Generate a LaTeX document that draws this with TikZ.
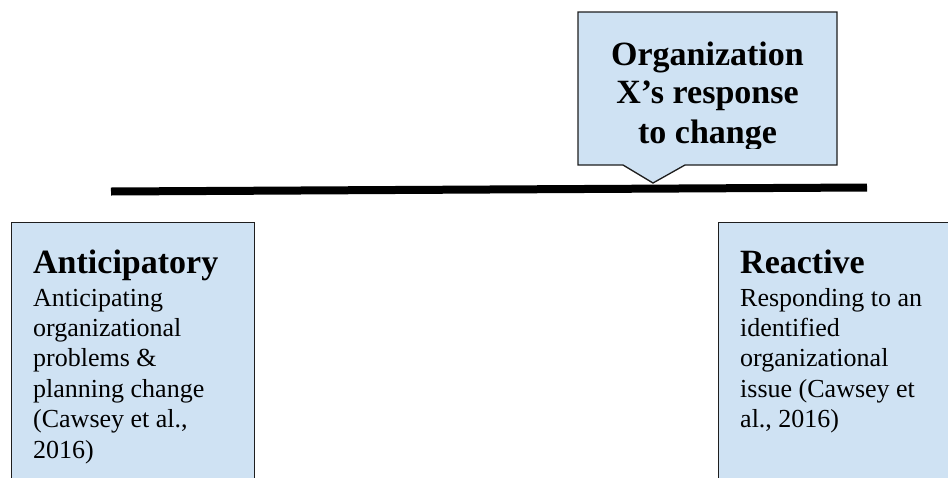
\documentclass[tikz,border=0pt]{standalone}
\usepackage{fontspec}
\setmainfont{Liberation Serif}
\definecolor{boxfill}{RGB}{207,226,243}
\definecolor{boxline}{RGB}{30,30,30}
\begin{document}
\begin{tikzpicture}[x=1pt,y=1pt,
  panel/.style={draw=boxline,line width=1.3pt,fill=boxfill,rectangle,inner sep=0pt,anchor=north west},
  headtxt/.style={anchor=base west,inner sep=0pt,font=\fontsize{34}{34}\selectfont\bfseries},
  bodytxt/.style={anchor=base west,inner sep=0pt,font=\fontsize{26}{30.4}\selectfont},
  calltxt/.style={anchor=base,inner sep=0pt,font=\fontsize{34}{34}\selectfont\bfseries}]
\useasboundingbox (0,0) rectangle (948,-477);
\clip (0,0) rectangle (948,-477);
% callout
\draw[draw=boxline,line width=1.3pt,fill=boxfill]
  (578,-12) -- (837,-12) -- (837,-165) -- (685,-165) -- (653,-183) -- (623,-165) -- (578,-165) -- cycle;
\begin{scope}
\clip (578,-12) rectangle (837,-148);
\node[calltxt] (c1) at (707.5,-65) {Organization};
\node[calltxt] (c2) at (707.5,-103.5) {X’s response};
\node[calltxt] (c3) at (707.5,-143) {to change};
\end{scope}
% horizontal bar
\coordinate (lineL) at (111,-191.5);
\coordinate (lineR) at (867,-187.5);
\draw[line width=8pt,black] (lineL) -- (lineR);
% left box
\node[panel,minimum width=243pt,minimum height=280pt] (leftbox) at (10.5,-222) {};
\node[headtxt] (lhead) at (33,-273) {Anticipatory};
\node[bodytxt] (l1) at (33,-306) {Anticipating};
\node[bodytxt] (l2) at (33,-336.4) {organizational};
\node[bodytxt] (l3) at (33,-366.8) {problems \&};
\node[bodytxt] (l4) at (33,-397.2) {planning change};
\node[bodytxt] (l5) at (33,-427.6) {(Cawsey et al.,};
\node[bodytxt] (l6) at (33,-458) {2016)};
% right box
\node[panel,minimum width=250pt,minimum height=280pt] (rightbox) at (718,-222) {};
\node[headtxt] (rhead) at (740,-273) {Reactive};
\node[bodytxt] (r1) at (740,-306) {Responding to an};
\node[bodytxt] (r2) at (740,-336.4) {identified};
\node[bodytxt] (r3) at (740,-366.8) {organizational};
\node[bodytxt] (r4) at (740,-397.2) {issue (Cawsey et};
\node[bodytxt] (r5) at (740,-427.6) {al., 2016)};
\end{tikzpicture}
\end{document}
